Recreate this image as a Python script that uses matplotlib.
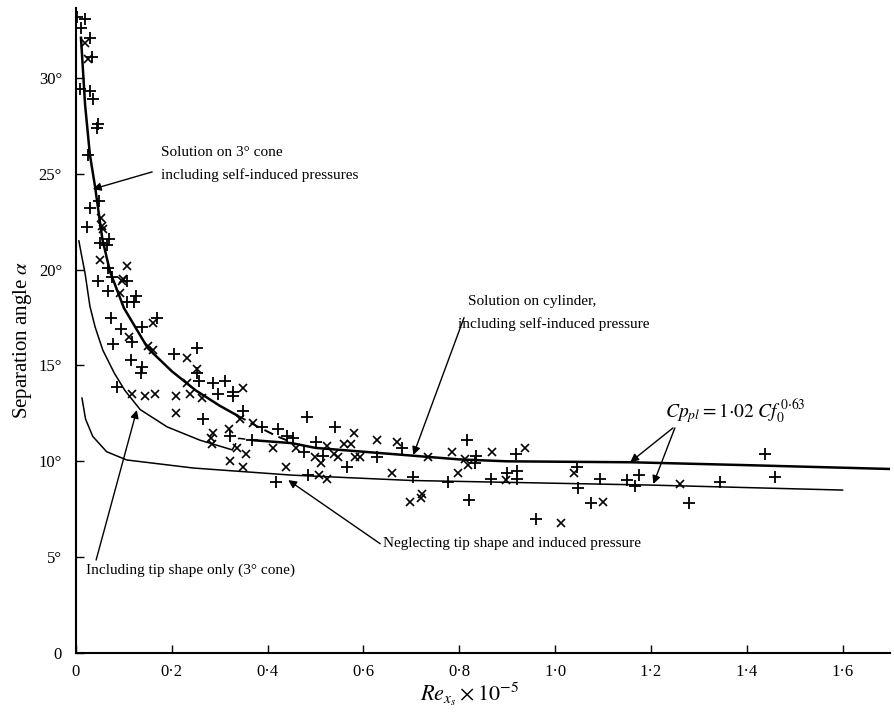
import numpy as np
import matplotlib
matplotlib.use('Agg')
import matplotlib.pyplot as plt

plt.rcParams['font.family'] = ['Liberation Serif', 'DejaVu Serif']
plt.rcParams['mathtext.fontset'] = 'stix'

# Theoretical curves
cone_x = [0.0104, 0.019, 0.029, 0.040, 0.055, 0.071, 0.100, 0.150, 0.200, 0.250, 0.300, 0.336]
cone_y = [32.1, 28.6, 26.0, 24.3, 21.6, 19.9, 18.0, 15.9, 14.7, 13.7, 12.9, 12.4]
cone_dash_x = [0.336, 0.38, 0.42, 0.45]
cone_dash_y = [12.4, 11.8, 11.3, 11.0]

cyl_x = [0.37, 0.45, 0.50, 0.55, 0.70, 0.80, 0.90, 1.16, 1.40, 1.70]
cyl_y = [11.1, 10.95, 10.7, 10.6, 10.3, 10.1, 10.0, 9.95, 9.8, 9.6]

tip_x = [0.006, 0.012, 0.019, 0.029, 0.040, 0.056, 0.080, 0.102, 0.134, 0.190, 0.259, 0.326]
tip_y = [21.5, 20.7, 19.8, 18.1, 17.0, 15.8, 14.6, 13.7, 12.7, 11.8, 11.1, 10.6]
tip_dash_x = [0.326, 0.340, 0.370]
tip_dash_y = [10.6, 11.2, 11.1]

neg_x = [0.0125, 0.020, 0.035, 0.064, 0.106, 0.245, 0.45, 0.70, 1.20, 1.60]
neg_y = [13.3, 12.2, 11.3, 10.5, 10.07, 9.65, 9.28, 9.0, 8.76, 8.5]

# Experimental points
plus_x = [0.002, 0.019, 0.010, 0.029, 0.033, 0.008, 0.029, 0.035, 0.046, 0.044,
          0.025, 0.048, 0.029, 0.023, 0.050, 0.069, 0.065, 0.067, 0.075, 0.046,
          0.067, 0.106, 0.125, 0.106, 0.121, 0.073, 0.138, 0.169, 0.094, 0.117,
          0.077, 0.115, 0.138, 0.136, 0.205, 0.253, 0.253, 0.257, 0.286, 0.311,
          0.328, 0.328, 0.086, 0.296, 0.265, 0.322, 0.349, 0.388, 0.422, 0.441,
          0.453, 0.367, 0.482, 0.541, 0.476, 0.501, 0.516, 0.566, 0.628, 0.681,
          0.704, 0.484, 0.418, 0.816, 0.835, 0.833, 0.919, 0.777, 0.866, 0.900,
          0.921, 0.921, 0.820, 1.046, 1.048, 1.094, 1.075, 1.150, 1.175, 1.167,
          1.280, 1.344, 1.438, 1.459, 0.960]
plus_y = [33.2, 33.1, 32.6, 32.1, 31.1, 29.4, 29.3, 28.9, 27.6, 27.4,
          26.0, 23.6, 23.2, 22.2, 21.4, 21.6, 21.3, 20.1, 19.6, 19.4,
          18.9, 19.4, 18.6, 18.3, 18.3, 17.5, 17.0, 17.5, 16.9, 16.2,
          16.1, 15.3, 14.9, 14.6, 15.6, 15.9, 14.6, 14.2, 14.1, 14.2,
          13.6, 13.4, 13.9, 13.5, 12.2, 11.3, 12.6, 11.8, 11.7, 11.3,
          11.2, 11.1, 12.3, 11.8, 10.5, 11.0, 10.3, 9.7, 10.2, 10.7,
          9.2, 9.3, 8.9, 11.1, 10.3, 9.9, 10.4, 8.9, 9.1, 9.4,
          9.5, 9.1, 8.0, 9.7, 8.6, 9.1, 7.8, 9.0, 9.3, 8.7,
          7.8, 8.9, 10.4, 9.2, 7.0]

cross_x = [0.025, 0.019, 0.052, 0.054, 0.056, 0.050, 0.106, 0.098, 0.096, 0.092,
           0.161, 0.111, 0.150, 0.161, 0.232, 0.253, 0.232, 0.349, 0.117, 0.144,
           0.165, 0.209, 0.238, 0.263, 0.209, 0.286, 0.282, 0.319, 0.284, 0.342,
           0.370, 0.411, 0.336, 0.355, 0.322, 0.349, 0.580, 0.459, 0.524, 0.499,
           0.511, 0.539, 0.547, 0.559, 0.574, 0.582, 0.593, 0.628, 0.670, 0.660,
           0.438, 0.507, 0.524, 0.735, 0.785, 0.812, 0.818, 0.868, 0.937, 0.797,
           0.898, 0.697, 0.722, 0.720, 1.040, 1.100, 1.261, 1.013]
cross_y = [31.0, 31.8, 22.7, 22.3, 22.1, 20.5, 20.2, 19.5, 19.4, 18.8,
           17.2, 16.5, 16.0, 15.8, 15.4, 14.8, 14.1, 13.8, 13.5, 13.4,
           13.5, 13.4, 13.5, 13.3, 12.5, 11.5, 11.2, 11.7, 10.9, 12.2,
           12.0, 10.7, 10.7, 10.4, 10.0, 9.7, 11.5, 10.7, 10.8, 10.2,
           9.9, 10.4, 10.2, 10.9, 10.9, 10.2, 10.2, 11.1, 11.0, 9.4,
           9.7, 9.3, 9.1, 10.2, 10.5, 10.1, 9.8, 10.5, 10.7, 9.4,
           9.0, 7.9, 8.3, 8.1, 9.4, 7.9, 8.8, 6.8]

xticks = [0, 0.2, 0.4, 0.6, 0.8, 1.0, 1.2, 1.4, 1.6]
xticklabels = ['0', '0·2', '0·4', '0·6', '0·8', '1·0', '1·2', '1·4', '1·6']
yticks = [0, 5, 10, 15, 20, 25, 30]
yticklabels = ['0', '5°', '10°', '15°', '20°', '25°', '30°']

fig = plt.figure(figsize=(8.94, 7.16), dpi=100)
ax = fig.add_axes([0.085, 0.088, 0.9105, 0.9008])

k = 'black'
ax.plot(cone_x, cone_y, color=k, lw=1.8)
ax.plot(cone_dash_x, cone_dash_y, color=k, lw=1.4, ls=(0, (5, 3)))
ax.plot(cyl_x, cyl_y, color=k, lw=1.8)
ax.plot(tip_x, tip_y, color=k, lw=1.1)
ax.plot(tip_dash_x, tip_dash_y, color=k, lw=1.1, ls=(0, (5, 3)))
ax.plot(neg_x, neg_y, color=k, lw=1.1)

ax.plot(plus_x, plus_y, ls='none', marker='+', ms=8, mew=1.3, color=k)
ax.plot(cross_x, cross_y, ls='none', marker='x', ms=6, mew=1.2, color=k)

ax.set_xlim(0, 1.699)
ax.set_ylim(0, 33.65)
ax.set_xticks(xticks)
ax.set_xticklabels(xticklabels, fontsize=12)
ax.set_yticks(yticks)
ax.set_yticklabels(yticklabels, fontsize=12)
ax.tick_params(direction='in', length=6, width=1, pad=8)
ax.tick_params(axis='y', pad=10)
for s in ['top', 'right']:
    ax.spines[s].set_visible(False)
for s in ['left', 'bottom']:
    ax.spines[s].set_linewidth(1.5)

ax.set_ylabel(r'Separation angle $\alpha$', fontsize=15)
ax.yaxis.set_label_coords(-0.052, 0.485)
ax.set_xlabel(r'$Re_{x_s}\times10^{-5}$', fontsize=16)
ax.xaxis.set_label_coords(0.484, -0.043)

arr = dict(arrowstyle='-|>', color=k, lw=1.0, mutation_scale=12, shrinkA=0, shrinkB=0)
tsize = 11

ax.annotate('', xy=(0.035, 24.2), xytext=(0.159, 25.1), arrowprops=arr)
ax.text(0.177, 26.1, 'Solution on 3° cone', fontsize=tsize, ha='left', va='center')
ax.text(0.177, 24.95, 'including self-induced pressures', fontsize=tsize, ha='left', va='center')

ax.annotate('', xy=(0.704, 10.33), xytext=(0.810, 17.5), arrowprops=arr)
ax.text(0.818, 18.36, 'Solution on cylinder,', fontsize=tsize, ha='left', va='center')
ax.text(0.797, 17.16, 'including self-induced pressure', fontsize=tsize, ha='left', va='center')

ax.annotate('', xy=(1.157, 9.96), xytext=(1.246, 11.74), arrowprops=arr)
ax.annotate('', xy=(1.205, 8.82), xytext=(1.250, 11.74), arrowprops=arr)
ax.text(1.376, 12.57, r'$Cp_{pl}=1{\cdot}02\ Cf_0^{\,0{\cdot}63}$', fontsize=14,
        ha='center', va='center')

ax.annotate('', xy=(0.443, 9.02), xytext=(0.635, 5.7), arrowprops=arr)
ax.text(0.641, 5.69, 'Neglecting tip shape and induced pressure', fontsize=tsize,
        ha='left', va='center')

ax.annotate('', xy=(0.127, 12.68), xytext=(0.042, 4.85), arrowprops=arr)
ax.text(0.021, 4.33, 'Including tip shape only (3° cone)', fontsize=tsize,
        ha='left', va='center')

fig.savefig('out.png', dpi=100)
